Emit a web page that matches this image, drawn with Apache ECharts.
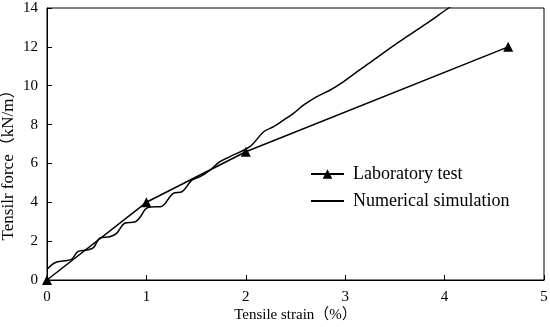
<!DOCTYPE html>
<html><head><meta charset="utf-8">
<script src="https://cdn.jsdelivr.net/npm/echarts@6/dist/echarts.min.js"></script>
<style>html,body{margin:0;padding:0;background:#fff}#c{width:550px;height:327px}</style>
</head><body><div id="c"></div>
<script>
const labStrain = [0, 1, 2, 4.64];
const labForce = [0, 4.0, 6.6, 12.0];
const simStrain = [0, 0.08, 0.18, 0.25, 0.31, 0.4, 0.47, 0.53, 0.63, 0.70, 0.78, 0.89, 0.94, 1.0, 1.09, 1.14, 1.27, 1.36, 1.46, 1.54, 1.64, 1.74, 1.84, 2.04, 2.18, 2.28, 2.38, 2.48, 2.58, 2.71, 2.85, 2.98, 3.12, 3.23, 3.52, 3.82, 4.04, 4.2];
const simForce = [0.55, 0.89, 0.99, 1.07, 1.46, 1.54, 1.68, 2.15, 2.23, 2.40, 2.92, 3.0, 3.26, 3.69, 3.77, 3.77, 4.46, 4.55, 5.15, 5.32, 5.66, 6.09, 6.35, 6.86, 7.63, 7.89, 8.23, 8.58, 9.0, 9.43, 9.78, 10.2, 10.72, 11.12, 12.18, 13.21, 14.0, 14.55];
const xTicks = [0, 1, 2, 3, 4, 5];
const yTicks = [0, 2, 4, 6, 8, 10, 12, 14];

const font = '"Liberation Serif", "Times New Roman", "Noto Sans CJK SC", serif';
const chart = echarts.init(document.getElementById('c'));
chart.setOption({
  animation: false,
  grid: {left: 47, right: 6, top: 8, bottom: 47, show: true, borderColor: '#000', borderWidth: 1, backgroundColor: 'transparent', containLabel: false, outerBoundsMode: 'none'},
  legend: {
    orient: 'vertical', left: 305, top: 160, itemWidth: 33, itemHeight: 12, itemGap: 9,
    textStyle: {fontFamily: font, fontSize: 18, color: '#000', padding: [0, 0, 0, 4]},
    data: [
      {name: 'Laboratory test'},
      {name: 'Numerical simulation', itemStyle: {color: 'rgba(0,0,0,0)', borderWidth: 0}}
    ]
  },
  xAxis: {
    type: 'value', min: xTicks[0], max: xTicks[xTicks.length - 1], interval: 1,
    name: 'Tensile strain（%）', nameLocation: 'middle', nameGap: 28, nameMoveOverlap: false,
    nameTextStyle: {fontFamily: font, fontSize: 15, color: '#000'},
    axisLine: {lineStyle: {color: '#000', width: 1}},
    axisTick: {inside: true, length: 5, lineStyle: {color: '#000'}},
    axisLabel: {fontFamily: font, fontSize: 15, color: '#000', margin: 10},
    splitLine: {show: false}
  },
  yAxis: {
    type: 'value', min: yTicks[0], max: yTicks[yTicks.length - 1], interval: 2,
    name: 'Tensilr force（kN/m）', nameLocation: 'middle', nameGap: 30, nameMoveOverlap: false,
    nameTextStyle: {fontFamily: font, fontSize: 17, color: '#000', padding: [0, 34, 0, 0]},
    axisLine: {show: true, lineStyle: {color: '#000', width: 1}},
    axisTick: {show: true, inside: true, length: 5, lineStyle: {color: '#000'}},
    axisLabel: {fontFamily: font, fontSize: 15, color: '#000', margin: 9},
    splitLine: {show: false}
  },
  series: [
    {
      name: 'Laboratory test', type: 'line',
      data: labStrain.map((x, i) => [x, labForce[i]]),
      symbol: 'triangle', symbolSize: 10, showSymbol: true,
      itemStyle: {color: '#000'}, lineStyle: {color: '#000', width: 1.5}, z: 3
    },
    {
      name: 'Numerical simulation', type: 'line',
      data: simStrain.map((x, i) => [x, simForce[i]]),
      symbol: 'none', smooth: 0.35, clip: true,
      itemStyle: {color: '#000'}, lineStyle: {color: '#000', width: 1.5}, z: 2
    }
  ]
});
</script></body></html>
